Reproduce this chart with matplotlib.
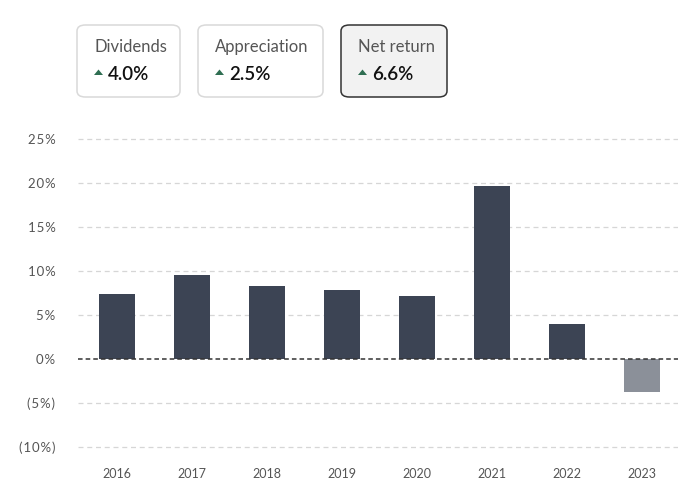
import matplotlib.pyplot as plt
from matplotlib.patches import FancyBboxPatch, Polygon

years = ['2016', '2017', '2018', '2019', '2020', '2021', '2022', '2023']
net_returns = [7.4, 9.5, 8.3, 7.8, 7.2, 19.7, 4.0, -3.8]

card_titles = ['Dividends', 'Appreciation', 'Net return']
card_values = ['4.0%', '2.5%', '6.6%']
y_ticks = [-10, -5, 0, 5, 10, 15, 20, 25]
y_labels = ['(10%)', '(5%)', '0%', '5%', '10%', '15%', '20%', '25%']

plt.rcParams['font.family'] = ['Lato', 'DejaVu Sans']

fig = plt.figure(figsize=(7, 5.04), dpi=100)
ax = fig.add_axes([0.111, 0.1044, 0.858, 0.6286])

# bars: dark for positive, grey for negative
colors = ['#3c4454' if v >= 0 else '#8b9099' for v in net_returns]
ax.bar(range(len(years)), net_returns, width=0.48, color=colors, zorder=3)

ax.set_xlim(-0.52, 7.48)
ax.set_ylim(-10.5, 25.5)
ax.set_yticks(y_ticks)
# the y labels are letter-spaced in the original
ax.set_yticklabels(['\u200a'.join(s) for s in y_labels])
ax.set_xticks(range(len(years)))
ax.set_xticklabels(years)

for t in y_ticks:
    if t == 0:
        ax.axhline(0, color='#333333', lw=1.1, ls=(0, (3, 2)), zorder=4)
    else:
        ax.axhline(t, color='#d6d6d6', lw=0.9, ls=(0, (4, 3)), zorder=1)

for s in ax.spines.values():
    s.set_visible(False)
ax.tick_params(axis='both', length=0, colors='#555555')
ax.tick_params(axis='y', pad=16, labelsize=9.5)
ax.tick_params(axis='x', pad=12, labelsize=9)

# summary cards above the chart
card_x = [77, 198, 341]
card_w = [103, 125, 106]
for i, (title, val) in enumerate(zip(card_titles, card_values)):
    x0 = card_x[i] / 700
    w = card_w[i] / 700
    y0 = 1 - 97 / 504
    h = 72 / 504
    active = i == 2
    box = FancyBboxPatch((x0, y0), w, h,
                         boxstyle='round,pad=0,rounding_size=0.012',
                         transform=fig.transFigure,
                         facecolor='#f2f2f2' if active else 'white',
                         edgecolor='#333333' if active else '#d9d9d9',
                         lw=1.1)
    fig.patches.append(box)
    tx = x0 + 17 / 700
    fig.text(tx, 1 - 47 / 504, title, fontsize=12, color='#555555',
             va='center', ha='left')
    # small green up-arrow
    ty = 1 - 73 / 504
    tri = Polygon([(tx, ty - 2 / 504), (tx + 9 / 700, ty - 2 / 504),
                   (tx + 4.5 / 700, ty + 3.5 / 504)],
                  closed=True, transform=fig.transFigure,
                  facecolor='#2f6e52', edgecolor='none')
    fig.patches.append(tri)
    fig.text(tx + 14 / 700, 1 - 74 / 504, val, fontsize=13.5, color='#111111',
             fontweight='semibold', va='center', ha='left')

fig.savefig('out.png', dpi=100)
